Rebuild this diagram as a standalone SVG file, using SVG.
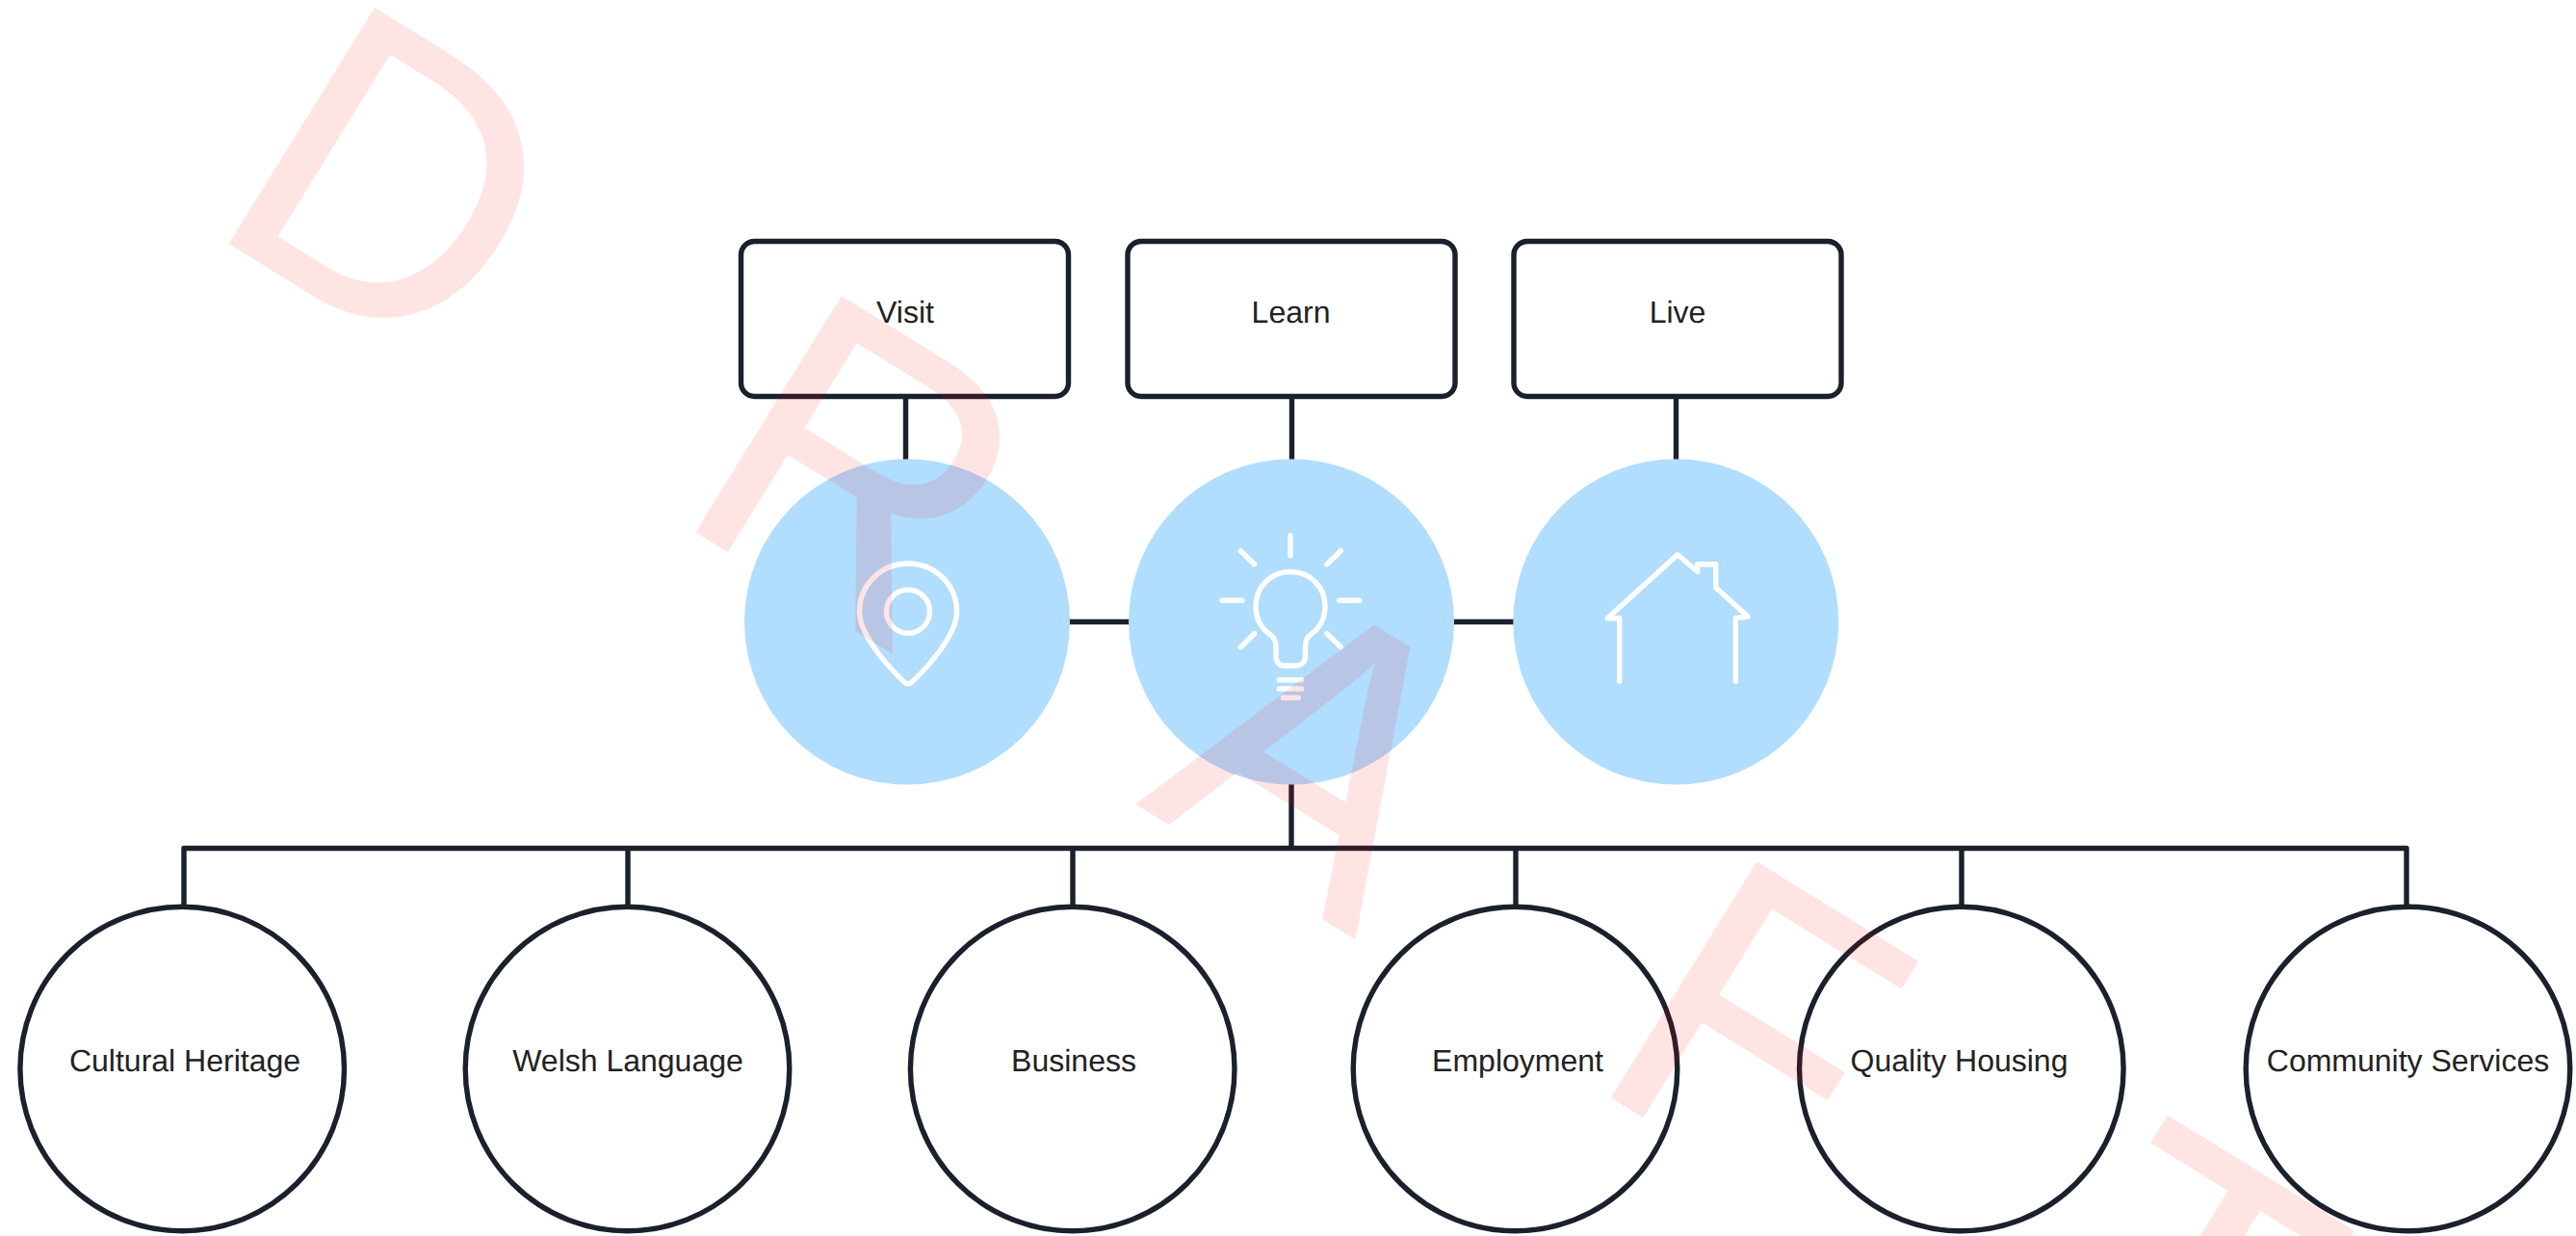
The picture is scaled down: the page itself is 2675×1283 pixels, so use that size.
<svg xmlns="http://www.w3.org/2000/svg" width="2675" height="1283" viewBox="0 0 2675 1283">
<style>
text{font-family:"Liberation Sans",Arial,sans-serif;text-rendering:geometricPrecision}
.label{font-size:32px;fill:#222;text-anchor:middle}
.box{fill:#fff;stroke:#1a202c;stroke-width:5.4}
.hub{fill:#b1ddff}
.ring{fill:#fff;stroke:#1a202c;stroke-width:5.4}
.icon{fill:none;stroke:#fff;stroke-width:5.4;stroke-linecap:round;stroke-linejoin:round}
.wire{fill:none;stroke:#1a202c;stroke-width:5.4}
.wm{font-size:400px;letter-spacing:280.8px;fill:#f00;stroke:#f00;stroke-width:2;opacity:.1}
</style>
<rect width="2675" height="1283" fill="#fff"/>
<g id="connectors">
<path class="wire" d="M940.5 412V478M1341.5 412V478M1740.5 412V478"/>
<path class="wire" d="M1110 645.5H1173M1509 645.5H1573"/>
<path class="wire" d="M1341 814V880"/>
<path class="wire" stroke-linejoin="round" d="M191 939V880.5H2499V939"/>
<path class="wire" d="M652 880V939M1114 880V939M1574 880V939M2037 880V939"/>
</g>
<g id="node-visit"><rect class="box" x="769.5" y="250.5" width="340" height="161" rx="14"/><text class="label" x="940" y="335">Visit</text></g>
<g id="node-learn"><rect class="box" x="1171" y="250.5" width="340" height="161" rx="14"/><text class="label" x="1340.5" y="335">Learn</text></g>
<g id="node-live"><rect class="box" x="1572" y="250.5" width="340" height="161" rx="14"/><text class="label" x="1742" y="335">Live</text></g>
<g id="hub-visit"><circle class="hub" cx="942" cy="645.5" r="169"/>
<path class="icon" d="M943 585C915 585 892.500 607 892.500 635C892.500 660 925 695 939 708C941.500 710.500 944.500 710.500 947 708C961 695 993.500 660 993.500 635C993.500 607 971 585 943 585Z"/><circle class="icon" cx="943" cy="634.700" r="22.500"/></g>
<g id="hub-learn"><circle class="hub" cx="1341" cy="645.500" r="169"/>
<path class="icon" d="M1340 556V576.700M1288.300 571.700L1302.700 585.700M1392.300 571.700L1378 585.700M1269 623.300H1290M1390.700 623.300H1411.700M1302.700 657.700L1288.300 671.700M1378 657.700L1392.300 671.700M1328.300 705.700H1351.700M1328.300 715H1351.700M1332.300 724.300H1348.300"/>
<path class="icon" d="M1340 593.500C1320 593.500 1304 609 1304 629C1304 642 1310 652 1318 658C1322 660.500 1325 664 1325 671V682C1325 687 1329 691 1333 691H1346C1351 691 1355.500 687 1355.500 682V671C1355.500 664 1358 660.500 1362 658C1370 652 1376 642 1376 629C1376 609 1360 593.500 1340 593.500Z"/></g>
<g id="hub-live"><circle class="hub" cx="1740.300" cy="645.500" r="169"/>
<path class="icon" d="M1681.700 707.300V641.700H1669.300L1742 575.700L1762.700 593.300V585.700H1781.700V610L1815 640L1802.300 641.700V707.300"/></g>
<g id="node-cultural-heritage"><circle class="ring" cx="189.200" cy="1109.500" r="168.300"/><text class="label" x="192" y="1112">Cultural Heritage</text></g>
<g id="node-welsh-language"><circle class="ring" cx="651.500" cy="1109.500" r="168.300"/><text class="label" x="652" y="1112">Welsh Language</text></g>
<g id="node-business"><circle class="ring" cx="1113.700" cy="1109.500" r="168.300"/><text class="label" x="1115" y="1112">Business</text></g>
<g id="node-employment"><circle class="ring" cx="1573.500" cy="1109.500" r="168.300"/><text class="label" x="1576" y="1112">Employment</text></g>
<g id="node-quality-housing"><circle class="ring" cx="2036.800" cy="1109.500" r="168.300"/><text class="label" x="2034.500" y="1112">Quality Housing</text></g>
<g id="node-community-services"><circle class="ring" cx="2500.500" cy="1109.500" r="168.300"/><text class="label" x="2500.500" y="1112">Community Services</text></g>
<text class="wm" transform="translate(238.300 252.300) rotate(31.700) scale(1 1.04)" x="-32" y="0">DRAFT</text>
</svg>
